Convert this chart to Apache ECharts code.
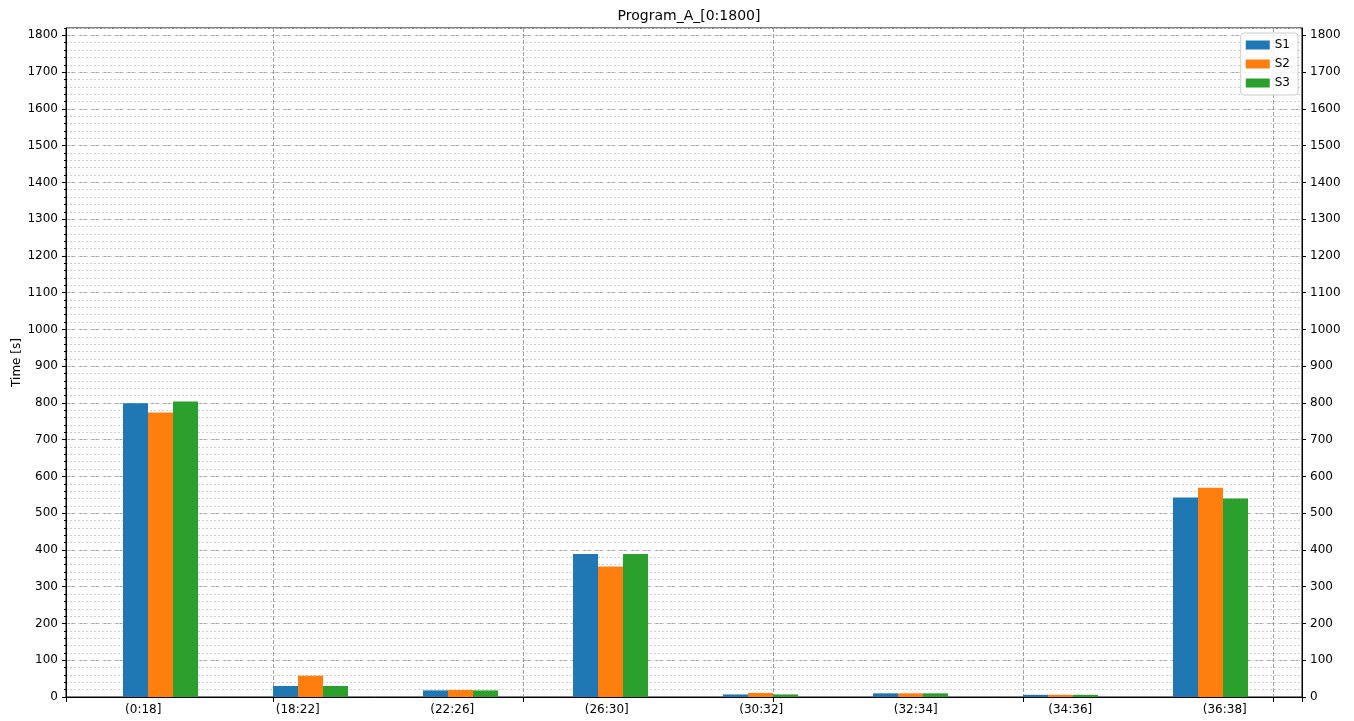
<!DOCTYPE html>
<html>
<head>
<meta charset="utf-8">
<script src="https://cdn.jsdelivr.net/npm/echarts@6/dist/echarts.min.js"></script>
<style>html,body{margin:0;padding:0;background:#fff;}#c{width:1354px;height:721px;}</style>
</head>
<body>
<div id="c"></div>
<script>
const categories = ['(0:18]', '(18:22]', '(22:26]', '(26:30]', '(30:32]', '(32:34]', '(34:36]', '(36:38]'];
const seriesNames = ['S1', 'S2', 'S3'];
const s1 = [799, 30, 18, 389, 7, 10, 6, 543];
const s2 = [774, 58, 19, 355, 11, 10, 6, 569];
const s3 = [804, 30, 18, 389, 7, 10, 6, 540];
const colors = ['#1f77b4', '#ff7f0e', '#2ca02c'];
const yMax = 1820;

const font = 'DejaVu Sans';
const chart = echarts.init(document.getElementById('c'), null, {renderer: 'canvas'});
const plain = v => String(v);
const option = {
  animation: false,
  color: colors,
  textStyle: {fontFamily: font},
  title: {
    text: 'Program_A_[0:1800]', left: 684, top: 4, textAlign: 'center',
    textStyle: {fontFamily: font, fontSize: 14, fontWeight: 'normal', color: '#000'}
  },
  legend: {
    data: seriesNames, orient: 'vertical', right: 56, top: 33,
    itemWidth: 24, itemHeight: 9, itemGap: 7, icon: 'rect',
    padding: [6, 8, 6, 5], borderColor: '#cccccc', borderWidth: 1, borderRadius: 3,
    backgroundColor: 'rgba(255,255,255,0.85)',
    textStyle: {fontFamily: font, fontSize: 12, color: '#000'}
  },
  grid: [
    {show: true, borderColor: '#000', borderWidth: 1, backgroundColor: '#fff',
     left: 66, right: 52, top: 28, bottom: 24, containLabel: false, outerBoundsMode: 'none'},
    {left: 85.5, right: 1354 - 1285.5, top: 28, bottom: 24, containLabel: false, outerBoundsMode: 'none'}
  ],
  xAxis: [
    {
      gridIndex: 0, type: 'category', data: categories, position: 'bottom', boundaryGap: true,
      axisLine: {show: true, onZero: false, lineStyle: {color: '#000'}}, axisTick: {show: false},
      axisLabel: {fontFamily: font, fontSize: 12, color: '#000', margin: 7},
      splitLine: {show: false}
    },
    {
      gridIndex: 0, type: 'value', position: 'bottom', min: -0.828, max: 4.116, splitNumber: 5,
      axisLine: {show: false, onZero: false}, axisLabel: {show: false},
      axisTick: {show: true, length: 5, lineStyle: {color: '#000'}},
      splitLine: {show: true, lineStyle: {color: '#a0a0a0', type: [4, 2], width: 1}}
    },
    {gridIndex: 1, type: 'category', data: categories, show: false}
  ],
  yAxis: [
    {
      gridIndex: 0, type: 'value', position: 'left', min: 0, max: yMax, interval: 100,
      name: 'Time [s]', nameLocation: 'middle', nameGap: 43, nameRotate: 90, nameMoveOverlap: false,
      nameTextStyle: {fontFamily: font, fontSize: 12, color: '#000'},
      axisLine: {show: true, onZero: false, lineStyle: {color: '#000'}},
      axisTick: {show: true, length: 4, lineStyle: {color: '#000'}},
      axisLabel: {fontFamily: font, fontSize: 12, color: '#000', margin: 8, showMaxLabel: false, formatter: plain},
      splitLine: {show: true, lineStyle: {color: '#a8a8a8', type: [4, 2], width: 1}}
    },
    {
      gridIndex: 0, type: 'value', position: 'left', min: 0, max: yMax, interval: 20,
      axisLine: {show: false, onZero: false}, axisLabel: {show: false},
      axisTick: {show: true, length: 2, lineStyle: {color: '#000'}},
      splitLine: {show: true, lineStyle: {color: '#cfcfcf', type: [2, 2], width: 1}}
    },
    {
      gridIndex: 0, type: 'value', position: 'right', min: 0, max: yMax, interval: 100,
      axisLine: {show: true, onZero: false, lineStyle: {color: '#000'}},
      axisTick: {show: true, length: 4, lineStyle: {color: '#000'}},
      axisLabel: {fontFamily: font, fontSize: 12, color: '#000', margin: 8, showMaxLabel: false, formatter: plain},
      splitLine: {show: false}
    },
    {gridIndex: 1, type: 'value', min: 0, max: yMax, show: false, splitLine: {show: false}}
  ],
  series: [s1, s2, s3].map((d, i) => ({
    name: seriesNames[i], type: 'bar', xAxisIndex: 2, yAxisIndex: 3,
    data: d, barWidth: 25, barGap: '0%', itemStyle: {color: colors[i]}
  }))
};
chart.setOption(option);
</script>
</body>
</html>
